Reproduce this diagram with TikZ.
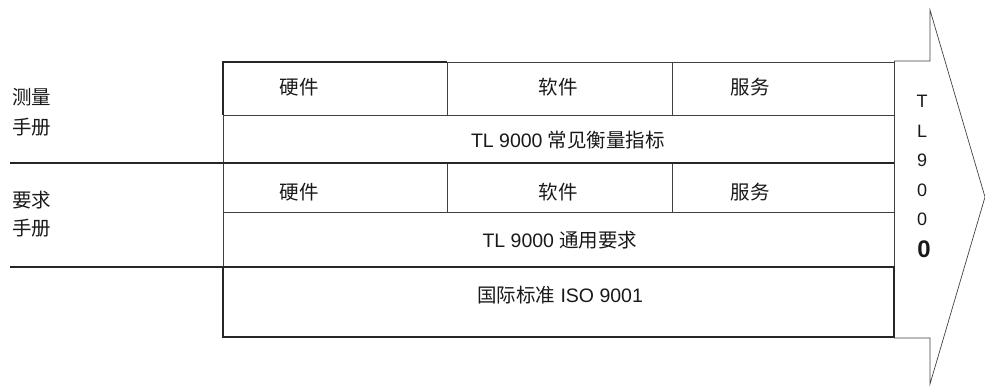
\documentclass[tikz,border=0pt]{standalone}
\usepackage{fontspec}
\setmainfont{Liberation Sans}
\newfontfamily\cjk{Noto Sans CJK SC}
\begin{document}
\begin{tikzpicture}[x=1pt,y=-1pt,
  thin line/.style={draw=black!75,line width=0.7pt},
  thick line/.style={draw=black!85,line width=1.6pt},
  lbl/.style={font=\fontsize{19.5}{19.5}\selectfont,inner sep=0pt,text=black!90},
  vlet/.style={font=\fontsize{18}{18}\selectfont,inner sep=0pt,text=black!90}]
\useasboundingbox (0,0) rectangle (985,387);
% arrow
\draw[thin line,line join=miter] (894,61) -- (930,61) -- (930,10) -- (985,197) -- (930,384) -- (930,338) -- (894,338);
\draw[thin line] (894,61) -- (894,338);
% table upper parts
\draw[thin line] (447,62) -- (894,62);
\draw[thin line] (223,115) -- (894,115);
\draw[thin line] (223,212) -- (894,212);
\draw[thin line] (223,62) -- (223,267);
\draw[thin line] (447,62) -- (447,115) (672,62) -- (672,115);
\draw[thin line] (447,163) -- (447,212) (672,163) -- (672,212);
\draw[thick line] (223,115) -- (223,62) -- (447,62);
% separators
\draw[thick line] (10,163) -- (894,163);
\draw[thick line] (10,267) -- (894,267);
% bottom box
\draw[thick line] (223,267) rectangle (894,337);
% texts
\node[lbl] (m1) at (32,97) {\cjk 测量};
\node[lbl] (m2) at (32,127) {\cjk 手册};
\node[lbl] (r1) at (32,200) {\cjk 要求};
\node[lbl] (r2) at (32,228) {\cjk 手册};
\node[lbl] (h1) at (299,87) {\cjk 硬件};
\node[lbl] (s1) at (558,87) {\cjk 软件};
\node[lbl] (f1) at (750,87) {\cjk 服务};
\node[lbl] (c1) at (568,140) {TL 9000 {\cjk 常见衡量指标}};
\node[lbl] (h2) at (299,192) {\cjk 硬件};
\node[lbl] (s2) at (558,192) {\cjk 软件};
\node[lbl] (f2) at (750,192) {\cjk 服务};
\node[lbl] (c2) at (560,240) {TL 9000 {\cjk 通用要求}};
\node[lbl] (c3) at (560,295) {{\cjk 国际标准} ISO 9001};
\node[vlet] (t1) at (922,101) {T};
\node[vlet] (t2) at (922,131) {L};
\node[vlet] (t3) at (922,160) {9};
\node[vlet] (t4) at (922,190) {0};
\node[vlet] (t5) at (922,219) {0};
\node[vlet,font=\fontsize{24}{24}\selectfont\bfseries] (t6) at (924,249) {0};
\end{tikzpicture}
\end{document}
